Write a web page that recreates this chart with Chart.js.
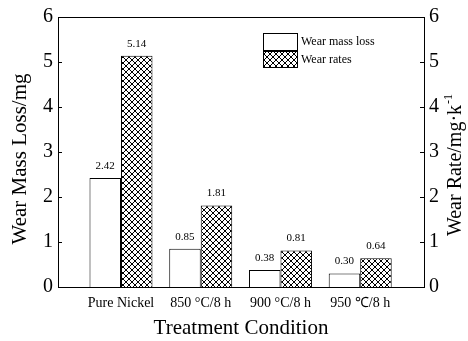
<!DOCTYPE html>
<html>
<head>
<meta charset="utf-8">
<script src="https://cdn.jsdelivr.net/npm/chart.js@4/dist/chart.umd.min.js"></script>
<style>
  html, body { margin: 0; padding: 0; background: #fff; }
  #wrap { width: 468px; height: 341px; }
</style>
</head>
<body>
<div id="wrap"><canvas id="c" width="468" height="341"></canvas></div>
<script>
// --- data ---
const categories = ['Pure Nickel', '850 \u00B0C/8 h', '900 \u00B0C/8 h', '950 \u2103/8 h'];
const massLoss = [2.42, 0.85, 0.38, 0.30];
const wearRates = [5.14, 1.81, 0.81, 0.64];
const yMin = 0;
const yMax = 6;

const FONT = "'Liberation Serif', 'Times New Roman', serif";

// crosshatch fill for the wear rate bars
function makeHatch() {
  const p = document.createElement('canvas');
  p.width = 6; p.height = 6;
  const g = p.getContext('2d');
  g.fillStyle = '#fff';
  g.fillRect(0, 0, 6, 6);
  g.strokeStyle = '#000';
  g.lineWidth = 1;
  g.beginPath();
  g.moveTo(0, 0); g.lineTo(6, 6);
  g.moveTo(0, 6); g.lineTo(6, 0);
  g.moveTo(-1, 5); g.lineTo(1, 7);
  g.moveTo(5, -1); g.lineTo(7, 1);
  g.stroke();
  return g.createPattern(p, 'repeat');
}
const ctx = document.getElementById('c').getContext('2d');
const hatch = makeHatch();

// rotated title that reads bottom to top, with optional superscript
function sideTitle(c, main, sup, x, y, size) {
  c.save();
  c.font = size + 'px ' + FONT;
  const w1 = c.measureText(main).width;
  c.font = Math.round(size * 0.6) + 'px ' + FONT;
  const w2 = sup ? c.measureText(sup).width + 1 : 0;
  c.translate(x, y);
  c.rotate(-Math.PI / 2);
  c.textAlign = 'left';
  c.textBaseline = 'middle';
  c.fillStyle = '#000';
  c.font = size + 'px ' + FONT;
  c.fillText(main, -(w1 + w2) / 2, 0);
  if (sup) {
    c.font = Math.round(size * 0.6) + 'px ' + FONT;
    c.fillText(sup, -(w1 + w2) / 2 + w1 + 1, -size * 0.38);
  }
  c.restore();
}

// frame, inward ticks, value labels, legend, side titles
const decor = {
  id: 'decor',
  afterDatasetsDraw(chart) {
    const c = chart.ctx;
    const a = chart.chartArea;
    c.save();
    c.strokeStyle = '#000';
    c.lineWidth = 1;
    c.strokeRect(Math.round(a.left) + 0.5, Math.round(a.top) + 0.5,
      Math.round(a.right - a.left), Math.round(a.bottom - a.top));

    ['y', 'y1'].forEach(id => {
      const s = chart.scales[id];
      s.ticks.forEach(t => {
        const y = Math.round(s.getPixelForValue(t.value)) + 0.5;
        c.beginPath();
        if (id === 'y') { c.moveTo(a.left, y); c.lineTo(a.left + 4, y); }
        else { c.moveTo(a.right, y); c.lineTo(a.right - 4, y); }
        c.stroke();
      });
    });

    // value labels above the bars
    c.fillStyle = '#000';
    c.font = '11px ' + FONT;
    c.textAlign = 'center';
    c.textBaseline = 'middle';
    chart.data.datasets.forEach((ds, di) => {
      chart.getDatasetMeta(di).data.forEach((el, i) => {
        c.fillText(ds.data[i].y.toFixed(2), el.x, el.y - 12);
      });
    });

    // legend
    const lx = 263, ly = 33;
    c.lineWidth = 1;
    c.fillStyle = '#fff';
    c.fillRect(lx, ly, 34, 17);
    c.strokeRect(lx + 0.5, ly + 0.5, 34, 17);
    c.fillStyle = hatch;
    c.fillRect(lx, ly + 18, 34, 16);
    c.strokeRect(lx + 0.5, ly + 18.5, 34, 16);
    c.fillStyle = '#000';
    c.font = '12px ' + FONT;
    c.textAlign = 'left';
    c.fillText(chart.data.datasets[0].label, lx + 38, ly + 9);
    c.fillText(chart.data.datasets[1].label, lx + 38, ly + 27);
    c.restore();

    sideTitle(c, 'Wear Mass Loss/mg', '', 20, 159, 21);
    sideTitle(c, 'Wear Rate/mg\u00B7k', '-1', 456, 165, 20);
  }
};

new Chart(ctx, {
  type: 'bar',
  data: {
    datasets: [{
      label: 'Wear mass loss',
      data: massLoss.map((v, i) => ({ x: i, y: v })),
      backgroundColor: '#fff',
      borderColor: '#000',
      borderWidth: 1,
      yAxisID: 'y'
    }, {
      label: 'Wear rates',
      data: wearRates.map((v, i) => ({ x: i, y: v })),
      backgroundColor: hatch,
      borderColor: '#000',
      borderWidth: 1,
      yAxisID: 'y1'
    }]
  },
  options: {
    responsive: false,
    animation: false,
    layout: { padding: { top: 16, left: 0, right: 0, bottom: 0 } },
    datasets: { bar: { categoryPercentage: 0.79, barPercentage: 1 } },
    plugins: { legend: { display: false }, tooltip: { enabled: false } },
    scales: {
      x: {
        type: 'linear',
        offset: false,
        min: -0.79,
        max: 3.8,
        grid: { display: false, drawTicks: false },
        border: { display: false },
        afterFit: s => { s.height = 54; },
        ticks: {
          stepSize: 1,
          includeBounds: false,
          autoSkip: false,
          maxRotation: 0,
          padding: 8,
          color: '#000',
          font: { family: FONT, size: 14 },
          callback: v => categories[v] !== undefined ? categories[v] : ''
        },
        title: {
          display: true,
          text: 'Treatment Condition',
          color: '#000',
          font: { family: FONT, size: 21 },
          padding: { top: 2, bottom: 0 }
        }
      },
      y: {
        position: 'left',
        min: yMin,
        max: yMax,
        grid: { display: false, drawTicks: false },
        border: { display: false },
        afterFit: s => { s.width = 58; },
        ticks: {
          stepSize: 1,
          padding: 5,
          color: '#000',
          font: { family: FONT, size: 20 }
        }
      },
      y1: {
        position: 'right',
        min: yMin,
        max: yMax,
        grid: { display: false, drawTicks: false },
        border: { display: false },
        afterFit: s => { s.width = 44; },
        ticks: {
          stepSize: 1,
          padding: 5,
          color: '#000',
          font: { family: FONT, size: 20 }
        }
      }
    }
  },
  plugins: [decor]
});
</script>
</body>
</html>
